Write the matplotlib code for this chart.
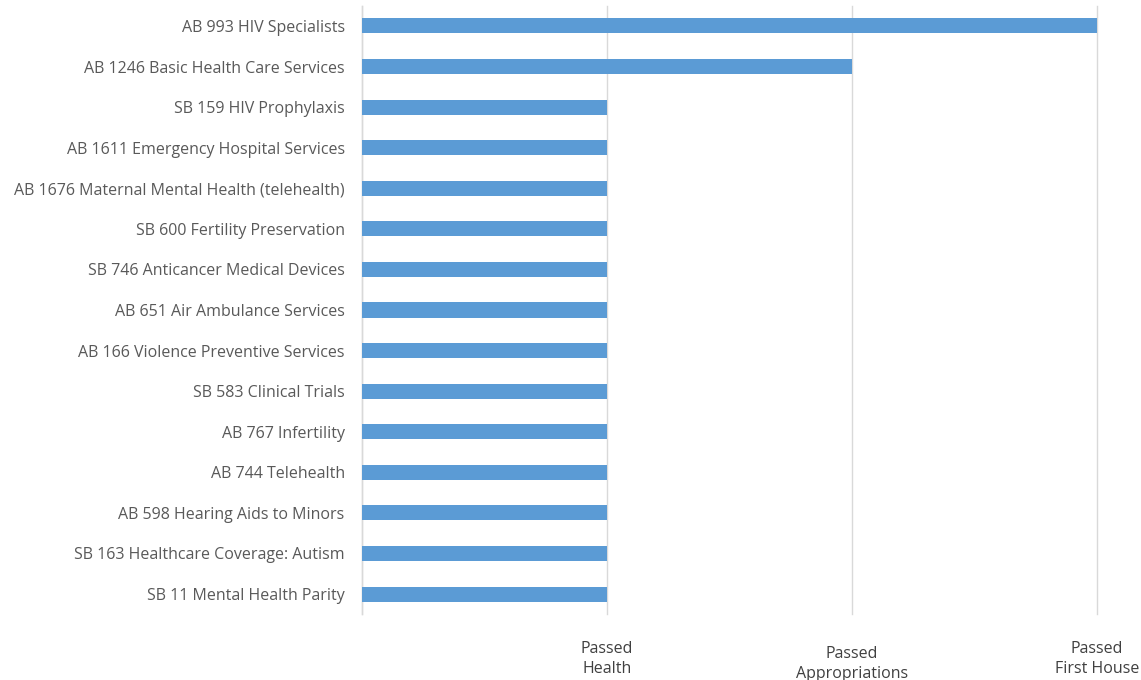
import matplotlib
matplotlib.use("Agg")
import matplotlib.pyplot as plt
import matplotlib.transforms as mtransforms

bills = [
    "AB 993 HIV Specialists",
    "AB 1246 Basic Health Care Services",
    "SB 159 HIV Prophylaxis",
    "AB 1611 Emergency Hospital Services",
    "AB 1676 Maternal Mental Health (telehealth)",
    "SB 600 Fertility Preservation",
    "SB 746 Anticancer Medical Devices",
    "AB 651 Air Ambulance Services",
    "AB 166 Violence Preventive Services",
    "SB 583 Clinical Trials",
    "AB 767 Infertility",
    "AB 744 Telehealth",
    "AB 598 Hearing Aids to Minors",
    "SB 163 Healthcare Coverage: Autism",
    "SB 11 Mental Health Parity",
]
stage = [3, 2, 1, 1, 1, 1, 1, 1, 1, 1, 1, 1, 1, 1, 1]
stage_labels = ["", "Passed\nHealth", "Passed\nAppropriations", "Passed\nFirst House"]

plt.rcParams['font.family'] = ['Open Sans', 'DejaVu Sans']
fig = plt.figure(figsize=(11.41, 6.80), dpi=100)
ax = fig.add_axes([362/1141, 1 - 614.3/680, (1097-362)/1141, (614.3-5.7)/680])

y = list(range(len(bills)))
ax.barh(y, stage, height=0.37, color="#5b9bd5", zorder=3)
ax.set_ylim(len(bills) - 0.5, -0.5)
ax.set_xlim(0, 3)
ax.set_yticks(y)
ax.set_yticklabels(bills, fontsize=11.5, color="#595959")
ax.set_xticks(range(len(stage_labels)))
ax.set_xticklabels(stage_labels, fontsize=11.5, color="#404040", linespacing=1.4)
ax.tick_params(axis='both', length=0)
ax.tick_params(axis='y', pad=12.5)
ax.tick_params(axis='x', pad=19)
ax.grid(axis='x', color="#d9d9d9", linewidth=1, zorder=0)
for gl in ax.get_xgridlines():
    gl.set_clip_on(False)
for s in ["top", "right", "bottom"]:
    ax.spines[s].set_visible(False)
ax.spines["left"].set_color("#d9d9d9")
ax.spines["left"].set_linewidth(1)

lbl = ax.get_xticklabels()[2]
lbl.set_transform(lbl.get_transform() + mtransforms.ScaledTranslation(0, -5/100, fig.dpi_scale_trans))

fig.savefig("out.png", dpi=100)
